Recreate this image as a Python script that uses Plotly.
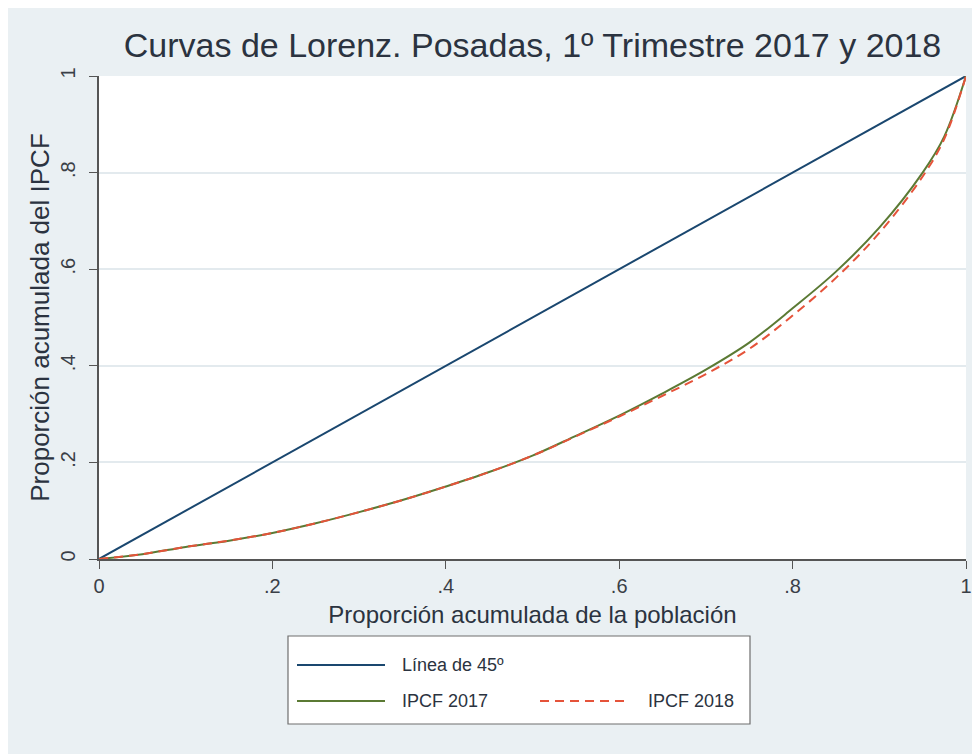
import plotly.graph_objects as go

# Lorenz curve readings (cumulative population share -> cumulative IPCF share)
pop_share = [0, 0.05, 0.10, 0.15, 0.20, 0.25, 0.30, 0.35, 0.40, 0.45, 0.50,
             0.55, 0.60, 0.65, 0.70, 0.75, 0.80, 0.85, 0.90, 0.95, 0.975, 1.0]
ipcf_2017 = [0, 0.010, 0.025, 0.038, 0.054, 0.074, 0.097, 0.122, 0.150, 0.180, 0.214,
             0.255, 0.297, 0.343, 0.392, 0.448, 0.519, 0.595, 0.686, 0.800, 0.875, 1.0]
ipcf_2018 = [0, 0.010, 0.025, 0.038, 0.054, 0.074, 0.097, 0.122, 0.150, 0.180, 0.214,
             0.254, 0.295, 0.338, 0.383, 0.435, 0.504, 0.582, 0.675, 0.792, 0.870, 1.0]
equality = [0, 1]

tick_vals = [0, 0.2, 0.4, 0.6, 0.8, 1]
tick_text = ["0", ".2", ".4", ".6", ".8", "1"]

legend_labels = ["Línea de 45º", "IPCF 2017", "IPCF 2018"]

NAVY = "#1a476f"
OLIVE = "#5b7a34"
RED = "#e5533a"
BG = "#eaf0f3"
TXT = "#2b3340"
FONT = "Liberation Sans, Arial, sans-serif"

# the page puts the figure 8px in from the top-left corner
OFF = 8
W, H = 980, 754
# plot area wanted on the page: x 99..966, y 76..559
L, T = 99 - OFF, 76 - OFF
R, B = W - (966 - OFF), H - (559 - OFF)
pw, ph = W - L - R, H - T - B


def px(x):
    return (x - OFF - L) / pw


def py(y):
    return (H - B - (y - OFF)) / ph


fig = go.Figure()

fig.add_trace(go.Scatter(x=equality, y=equality, mode="lines",
                         line=dict(color=NAVY, width=2), name=legend_labels[0]))
fig.add_trace(go.Scatter(x=pop_share, y=ipcf_2017, mode="lines",
                         line=dict(color=OLIVE, width=2, shape="spline"), name=legend_labels[1]))
fig.add_trace(go.Scatter(x=pop_share, y=ipcf_2018, mode="lines",
                         line=dict(color=RED, width=2, dash="9px,6px", shape="spline"),
                         name=legend_labels[2]))

shapes = [
    # legend box
    dict(type="rect", xref="paper", yref="paper",
         x0=px(288), x1=px(750), y0=py(724), y1=py(636),
         fillcolor="white", line=dict(color="#6e6e6e", width=1.2)),
    dict(type="line", xref="paper", yref="paper",
         x0=px(297), x1=px(385), y0=py(665), y1=py(665),
         line=dict(color=NAVY, width=2)),
    dict(type="line", xref="paper", yref="paper",
         x0=px(297), x1=px(385), y0=py(701), y1=py(701),
         line=dict(color=OLIVE, width=2)),
    dict(type="line", xref="paper", yref="paper",
         x0=px(540), x1=px(630), y0=py(701), y1=py(701),
         line=dict(color=RED, width=2, dash="9px,6px")),
]

annotations = [
    dict(text=legend_labels[0], x=px(400), y=py(665)),
    dict(text=legend_labels[1], x=px(400), y=py(701)),
    dict(text=legend_labels[2], x=px(646), y=py(701)),
]
for a in annotations:
    a.update(xref="paper", yref="paper", xanchor="left", yanchor="middle",
             showarrow=False, font=dict(family=FONT, size=18, color=TXT))

fig.update_layout(
    width=W, height=H,
    margin=dict(l=L, r=R, t=T, b=B),
    paper_bgcolor=BG,
    plot_bgcolor="white",
    showlegend=False,
    shapes=shapes,
    annotations=annotations,
    font=dict(family=FONT, color=TXT),
    title=dict(text="Curvas de Lorenz. Posadas, 1º Trimestre 2017 y 2018",
               x=(L + pw / 2) / W, xanchor="center",
               y=1 - (45 - OFF) / H, yanchor="middle",
               font=dict(family=FONT, size=34, color=TXT)),
    xaxis=dict(range=[0, 1], tickvals=tick_vals, ticktext=tick_text,
               showgrid=False, zeroline=False,
               showline=True, linecolor="#555555", linewidth=1.5,
               ticks="outside", ticklen=8, tickcolor="#555555",
               tickfont=dict(size=20, color="#3a3f47"),
               title=dict(text="Proporción acumulada de la población",
                          font=dict(size=24, color=TXT), standoff=10)),
    yaxis=dict(range=[0, 1], tickvals=tick_vals, ticktext=tick_text,
               showgrid=True, gridcolor="#e3eaee", gridwidth=1.5, zeroline=False,
               showline=True, linecolor="#555555", linewidth=1.5,
               ticks="outside", ticklen=8, tickcolor="#555555", tickangle=-90,
               ticklabelstandoff=6,
               tickfont=dict(size=20, color="#3a3f47"),
               title=dict(text="Proporción acumulada del IPCF",
                          font=dict(size=26, color=TXT), standoff=0)),
)

fig.write_html("out.html")
